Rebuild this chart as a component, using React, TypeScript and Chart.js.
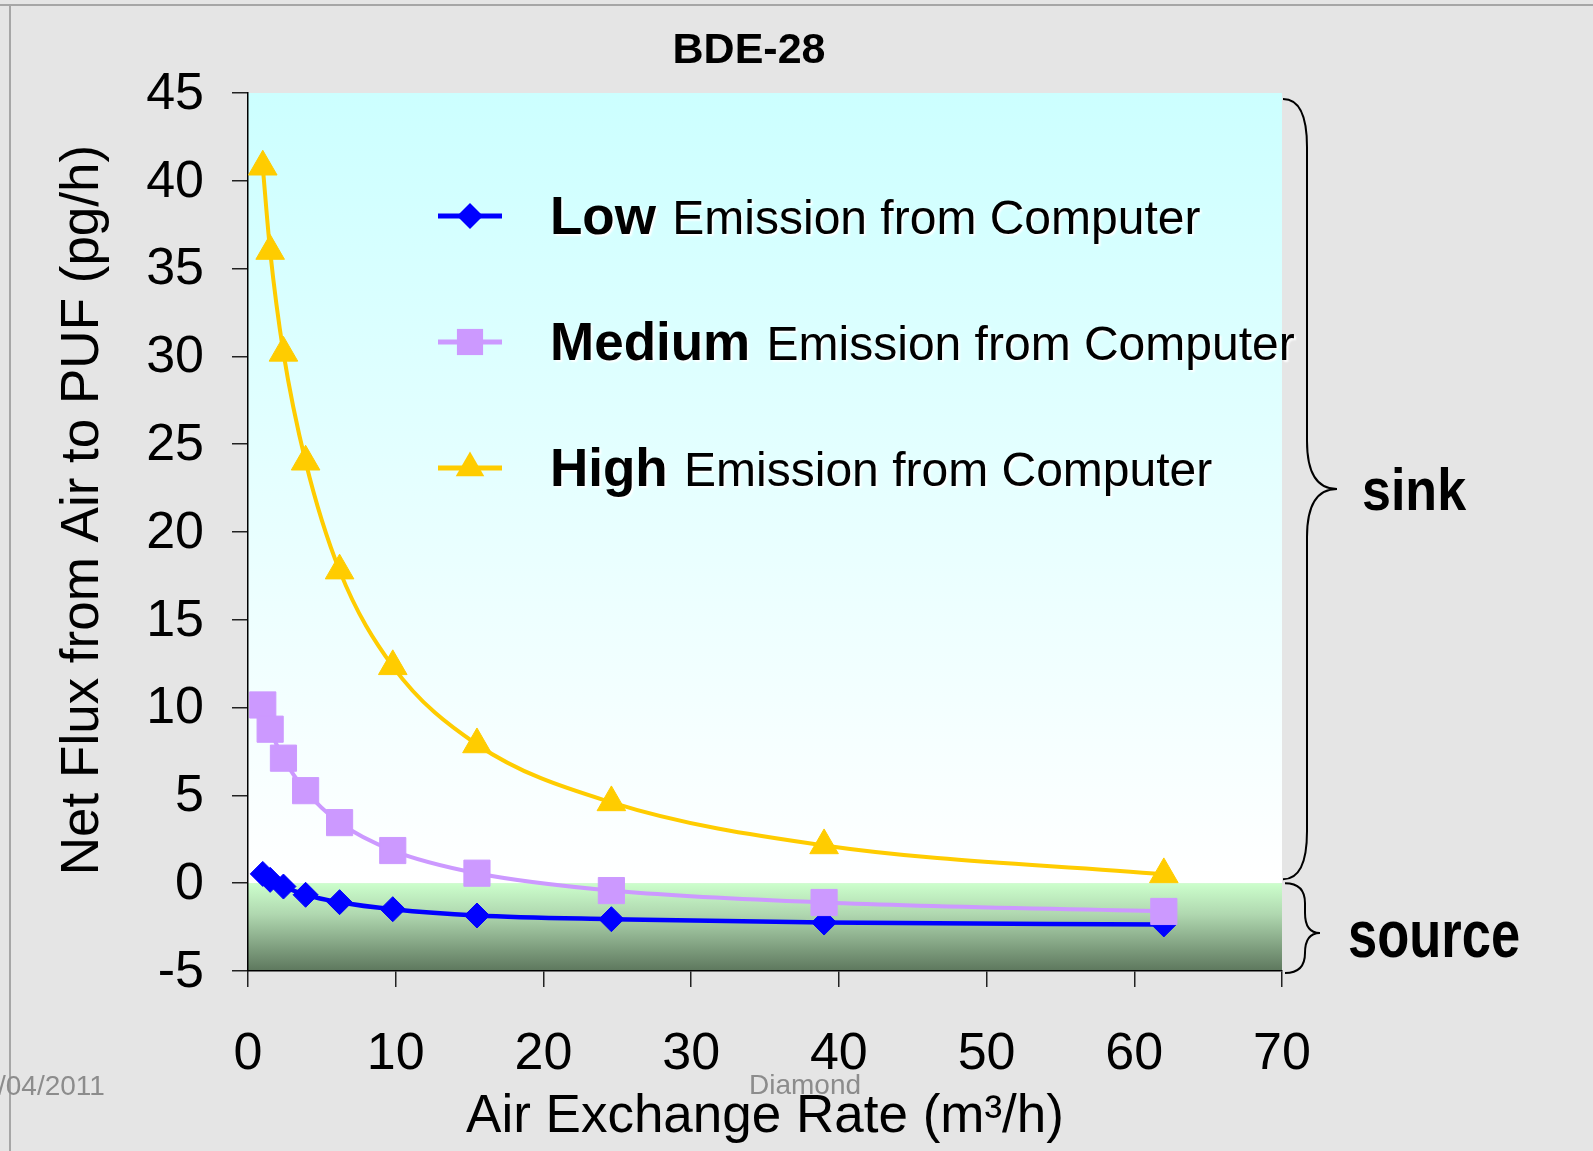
import React, { useEffect, useRef } from 'react';
import { Chart, registerables } from 'chart.js';

Chart.register(...registerables);

// ---- data ----
const chartTitle = 'BDE-28';
const xAxisTitle = 'Air Exchange Rate (m³/h)';
const yAxisTitle = 'Net Flux from Air to PUF (pg/h)';
const airExchangeRate = [1, 1.5, 2.4, 3.9, 6.2, 9.8, 15.5, 24.6, 39, 62];
const lowEmission = [0.53, 0.19, -0.19, -0.66, -1.08, -1.48, -1.84, -2.05, -2.24, -2.35];
const mediumEmission = [10.15, 8.77, 7.12, 5.27, 3.45, 1.86, 0.57, -0.42, -1.1, -1.61];
const highEmission = [40.8, 36.0, 30.2, 24.0, 17.8, 12.35, 7.9, 4.6, 2.15, 0.5];
const seriesNames = ['Low', 'Medium', 'High'];
const seriesSuffix = ' Emission from Computer';
const xTicksMinMax = [0, 70, 10];
const yTicksMinMax = [-5, 45, 5];
const sinkLabel = 'sink';
const sourceLabel = 'source';
const dateStamp = '/04/2011';
const footerStamp = 'Diamond';

// ---- styles ----
const COLORS = ['#0000ff', '#cc99ff', '#ffcc00'];
const MARKERS = ['rectRot', 'rect', 'triangle'];
const RADII = [12.5, 18.5, 16.5];
const LINE_W = [4.5, 4, 4];
const FONT = '"Liberation Sans", Arial, sans-serif';

function drawMarker(ctx: CanvasRenderingContext2D, style: string, x: number, y: number, r: number) {
  ctx.beginPath();
  if (style === 'rectRot') {
    ctx.moveTo(x - r, y);
    ctx.lineTo(x, y - r);
    ctx.lineTo(x + r, y);
    ctx.lineTo(x, y + r);
  } else if (style === 'rect') {
    const s = Math.SQRT1_2 * r;
    ctx.rect(x - s, y - s, 2 * s, 2 * s);
  } else {
    let a = 0;
    ctx.moveTo(x + Math.sin(a) * r, y - Math.cos(a) * r);
    a += (2 * Math.PI) / 3;
    ctx.lineTo(x + Math.sin(a) * r, y - Math.cos(a) * r);
    a += (2 * Math.PI) / 3;
    ctx.lineTo(x + Math.sin(a) * r, y - Math.cos(a) * r);
  }
  ctx.closePath();
  ctx.fill();
}

function drawBrace(
  ctx: CanvasRenderingContext2D,
  xL: number, xM: number, xT: number,
  top: number, tipY: number, bottom: number, c: number
) {
  ctx.beginPath();
  ctx.moveTo(xL, top);
  ctx.quadraticCurveTo(xM, top, xM, top + c);
  ctx.lineTo(xM, tipY - c);
  ctx.quadraticCurveTo(xM, tipY, xT, tipY);
  ctx.quadraticCurveTo(xM, tipY, xM, tipY + c);
  ctx.lineTo(xM, bottom - c);
  ctx.quadraticCurveTo(xM, bottom, xL, bottom);
  ctx.stroke();
}

const backgroundPlugin = {
  id: 'bgPlugin',
  beforeDraw(chart: any) {
    const { ctx, width, height, chartArea } = chart;
    const yScale = chart.scales.y;
    ctx.save();
    ctx.fillStyle = '#e5e5e5';
    ctx.fillRect(0, 0, width, height);
    // slide frame
    ctx.strokeStyle = '#a6a6a6';
    ctx.lineWidth = 2;
    ctx.beginPath();
    ctx.moveTo(0, 5);
    ctx.lineTo(width, 5);
    ctx.moveTo(10, 5);
    ctx.lineTo(10, height);
    ctx.stroke();

    const zeroY = yScale.getPixelForValue(0);
    const { left, right, top, bottom } = chartArea;
    const g1 = ctx.createLinearGradient(0, top, 0, zeroY);
    g1.addColorStop(0, '#ccffff');
    g1.addColorStop(1, '#ffffff');
    ctx.fillStyle = g1;
    ctx.fillRect(left, top, right - left, zeroY - top);
    const g2 = ctx.createLinearGradient(0, zeroY, 0, bottom);
    g2.addColorStop(0, '#ccffcc');
    g2.addColorStop(0.35, '#b0d8b0');
    g2.addColorStop(1, '#5d775d');
    ctx.fillStyle = g2;
    ctx.fillRect(left, zeroY, right - left, bottom - zeroY);
    ctx.restore();
  },
};

const overlayPlugin = {
  id: 'overlayPlugin',
  afterDraw(chart: any) {
    const { ctx, chartArea } = chart;
    const yScale = chart.scales.y;
    ctx.save();

    // title
    ctx.fillStyle = '#000';
    ctx.font = `bold 43px ${FONT}`;
    ctx.textAlign = 'center';
    ctx.textBaseline = 'middle';
    ctx.fillText(chartTitle, 749, 51);

    // y axis title
    ctx.save();
    ctx.translate(98, 510);
    ctx.rotate(-Math.PI / 2);
    ctx.font = `53px ${FONT}`;
    ctx.textAlign = 'center';
    ctx.textBaseline = 'alphabetic';
    ctx.fillText(yAxisTitle, 0, 0);
    ctx.restore();

    // legend
    const rows = [216, 342, 468];
    seriesNames.forEach((name, i) => {
      const y = rows[i];
      ctx.strokeStyle = COLORS[i];
      ctx.fillStyle = COLORS[i];
      ctx.lineWidth = 5;
      ctx.beginPath();
      ctx.moveTo(438, y);
      ctx.lineTo(502, y);
      ctx.stroke();
      drawMarker(ctx, MARKERS[i], 470, y, i === 0 ? 13 : RADII[i]);
      ctx.save();
      ctx.shadowColor = 'rgba(255,255,255,0.95)';
      ctx.shadowOffsetX = 2;
      ctx.shadowOffsetY = 2;
      ctx.shadowBlur = 2;
      ctx.fillStyle = '#000';
      ctx.textAlign = 'left';
      ctx.textBaseline = 'alphabetic';
      ctx.font = `bold 53px ${FONT}`;
      ctx.fillText(name, 550, y + 18);
      const w = ctx.measureText(name).width;
      ctx.font = `48px ${FONT}`;
      ctx.fillText(seriesSuffix, 553 + w, y + 18);
      ctx.restore();
    });

    // braces
    const right = chartArea.right;
    const zeroY = yScale.getPixelForValue(0);
    const topY = chartArea.top + 6;
    ctx.strokeStyle = '#000';
    ctx.lineWidth = 2;
    drawBrace(ctx, right + 1, right + 25, right + 55, topY, (topY + zeroY - 4) / 2, zeroY - 4, 48);
    drawBrace(ctx, right + 3, right + 23, right + 38, zeroY, (zeroY + chartArea.bottom) / 2 + 6, chartArea.bottom + 2, 20);

    ctx.fillStyle = '#000';
    ctx.font = `bold 52px ${FONT}`;
    ctx.textAlign = 'left';
    ctx.textBaseline = 'alphabetic';
    ctx.save();
    ctx.translate(1362, 510);
    ctx.scale(1, 1.15);
    ctx.fillText(sinkLabel, 0, 0);
    ctx.restore();
    ctx.save();
    ctx.translate(1348, 957);
    ctx.scale(1.01, 1.3);
    ctx.fillText(sourceLabel, 0, 0);
    ctx.restore();

    // slide footer stamps
    ctx.fillStyle = '#8c8c8c';
    ctx.font = `28px ${FONT}`;
    ctx.textAlign = 'left';
    ctx.fillText(dateStamp, -2, 1095);
    ctx.textAlign = 'center';
    ctx.fillText(footerStamp, 805, 1094);

    ctx.restore();
  },
};

export default function App() {
  const canvasRef = useRef<HTMLCanvasElement | null>(null);

  useEffect(() => {
    document.body.style.margin = '0';
    const canvas = canvasRef.current;
    if (!canvas) return;
    const series = [lowEmission, mediumEmission, highEmission];
    const datasets = series.map((vals, i) => ({
      label: seriesNames[i] + seriesSuffix,
      data: airExchangeRate.map((x, j) => ({ x, y: vals[j] })),
      borderColor: COLORS[i],
      backgroundColor: COLORS[i],
      borderWidth: LINE_W[i],
      pointStyle: MARKERS[i],
      pointRadius: RADII[i],
      pointHoverRadius: RADII[i],
      pointBorderWidth: 1,
      pointBorderColor: COLORS[i],
      pointBackgroundColor: COLORS[i],
      cubicInterpolationMode: 'monotone' as const,
      order: 3 - i,
      clip: false as any,
    }));

    const chart = new Chart(canvas, {
      type: 'line',
      data: { datasets },
      options: {
        responsive: false,
        animation: false,
        devicePixelRatio: 1,
        events: [],
        layout: { padding: { left: 0, right: 311, top: 93, bottom: 0 } },
        plugins: {
          legend: { display: false },
          title: { display: false },
          tooltip: { enabled: false },
        },
        scales: {
          x: {
            type: 'linear',
            min: xTicksMinMax[0],
            max: xTicksMinMax[1],
            ticks: {
              stepSize: xTicksMinMax[2],
              font: { family: FONT, size: 52 },
              color: '#000',
              padding: 36,
              maxRotation: 0,
              autoSkip: false,
            },
            grid: { drawOnChartArea: false, drawTicks: true, tickLength: 16, color: '#222', lineWidth: 1.5 },
            border: { display: true, color: '#000', width: 1.5 },
            title: {
              display: true,
              text: xAxisTitle,
              font: { family: FONT, size: 53 },
              color: '#000',
              padding: { top: 0, bottom: 2 },
            },
            afterFit: (s: any) => {
              s.height = 180;
            },
          },
          y: {
            type: 'linear',
            min: yTicksMinMax[0],
            max: yTicksMinMax[1],
            ticks: {
              stepSize: yTicksMinMax[2],
              font: { family: FONT, size: 52 },
              color: '#000',
              padding: 28,
              labelOffset: 1.5,
            },
            grid: { drawOnChartArea: false, drawTicks: true, tickLength: 16, color: '#222', lineWidth: 1.5 },
            border: { display: true, color: '#000', width: 1.5 },
            afterFit: (s: any) => {
              s.width = 248;
            },
          },
        },
      },
      plugins: [backgroundPlugin, overlayPlugin],
    });
    return () => chart.destroy();
  }, []);

  return (
    <div style={{ position: 'fixed', left: 0, top: 0, width: 1593, height: 1151 }}>
      <canvas ref={canvasRef} width={1593} height={1151} style={{ display: 'block' }} />
    </div>
  );
}
